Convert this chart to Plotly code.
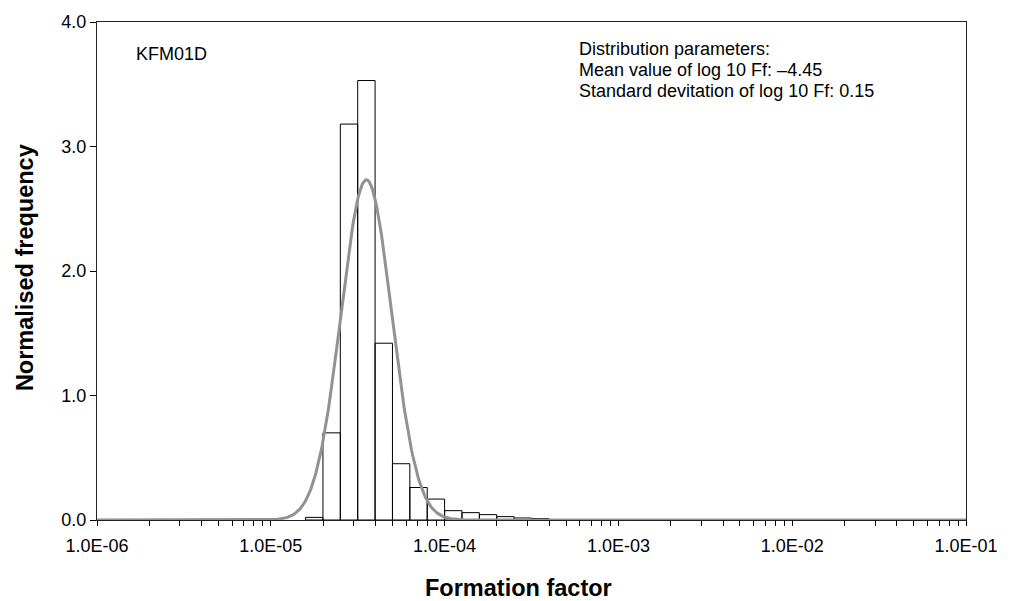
import numpy as np
import plotly.graph_objects as go

# Histogram bins in log10(Formation factor), width 0.1
bin_left_log10 = [-4.8, -4.7, -4.6, -4.5, -4.4, -4.3, -4.2, -4.1, -4.0, -3.9, -3.8, -3.7, -3.6, -3.5]
bin_width_log10 = 0.1
norm_freq = [0.021, 0.70, 3.18, 3.53, 1.42, 0.452, 0.261, 0.168, 0.075, 0.059, 0.043, 0.027, 0.016, 0.012]

# Fitted log-normal distribution parameters
mean_log10 = -4.45
std_log10 = 0.146

x_tick_vals = [1e-6, 1e-5, 1e-4, 1e-3, 1e-2, 1e-1]
x_tick_text = ["1.0E-06", "1.0E-05", "1.0E-04", "1.0E-03", "1.0E-02", "1.0E-01"]
y_tick_vals = [0, 1, 2, 3, 4]

FONT = "Liberation Sans, Arial, sans-serif"

# plot area in pixels
L, R, T, B = 97, 973, 19, 520
W, H = 1010, 601


def px(xp):
    return (xp - L) / (R - L)


def py(yp):
    return (B - yp) / (B - T)


# bars as closed rectangles in data coordinates
bx, by = [], []
for a, h in zip(bin_left_log10, norm_freq):
    b = a + bin_width_log10
    bx += [10 ** a, 10 ** a, 10 ** b, 10 ** b, 10 ** a, None]
    by += [0, h, h, 0, 0, None]

fig = go.Figure()
fig.add_trace(go.Scatter(x=bx, y=by, mode="lines", fill="toself", fillcolor="white",
                         line=dict(color="black", width=1), hoverinfo="skip", showlegend=False))

lx = np.linspace(-6, -1, 1001)
ly = np.exp(-0.5 * ((lx - mean_log10) / std_log10) ** 2) / (std_log10 * np.sqrt(2 * np.pi))
fig.add_trace(go.Scatter(x=10 ** lx, y=ly, mode="lines",
                         line=dict(color="#929292", width=3), showlegend=False))

minor_vals = [k * 10.0 ** e for e in range(-6, -1) for k in range(2, 10)]

ann_font = dict(size=18, family=FONT, color="black")
title_font = dict(size=23.5, family=FONT, color="black")

fig.update_layout(
    width=W, height=H,
    margin=dict(l=L, r=W - R, t=T, b=H - B),
    paper_bgcolor="white", plot_bgcolor="white",
    font=dict(family=FONT, size=18, color="black"),
    xaxis=dict(type="log", range=[-6, -1], tickvals=x_tick_vals, ticktext=x_tick_text,
               ticks="outside", ticklen=5, tickcolor="black", showgrid=False, zeroline=False,
               showline=True, linecolor="#222222", linewidth=1, mirror=True, layer="below traces",
               minor=dict(tickvals=minor_vals, ticks="outside", ticklen=5, tickcolor="black", showgrid=False),
               tickfont=dict(size=18), ticklabelstandoff=4),
    yaxis=dict(range=[0, 4], tickvals=y_tick_vals, tickformat=".1f",
               ticks="outside", ticklen=6, tickcolor="black", showgrid=False, zeroline=False,
               showline=True, linecolor="#222222", linewidth=1, mirror=True,
               tickfont=dict(size=18)),
    annotations=[
        dict(text="<b>Formation factor</b>", xref="paper", yref="paper", x=px(522), y=py(588),
             xanchor="center", yanchor="middle", showarrow=False, font=title_font),
        dict(text="<b>Normalised frequency</b>", xref="paper", yref="paper", x=px(24), y=py(266),
             xanchor="center", yanchor="middle", textangle=-90, showarrow=False, font=title_font),
        dict(text="KFM01D", xref="paper", yref="paper", x=px(134), y=py(51),
             xanchor="left", yanchor="middle", showarrow=False, font=ann_font),
        dict(text="Distribution parameters:", xref="paper", yref="paper", x=px(581), y=py(46),
             xanchor="left", yanchor="middle", showarrow=False, font=ann_font),
        dict(text="Mean value of log 10 Ff: \u20134.45", xref="paper", yref="paper", x=px(581), y=py(67),
             xanchor="left", yanchor="middle", showarrow=False, font=ann_font),
        dict(text="Standard devitation of log 10 Ff: 0.15", xref="paper", yref="paper", x=px(581), y=py(88),
             xanchor="left", yanchor="middle", showarrow=False, font=ann_font),
    ],
)

fig.write_html("out.html", config={"displayModeBar": False},
               post_script="document.body.style.margin='0px';document.body.style.overflow='hidden';")
